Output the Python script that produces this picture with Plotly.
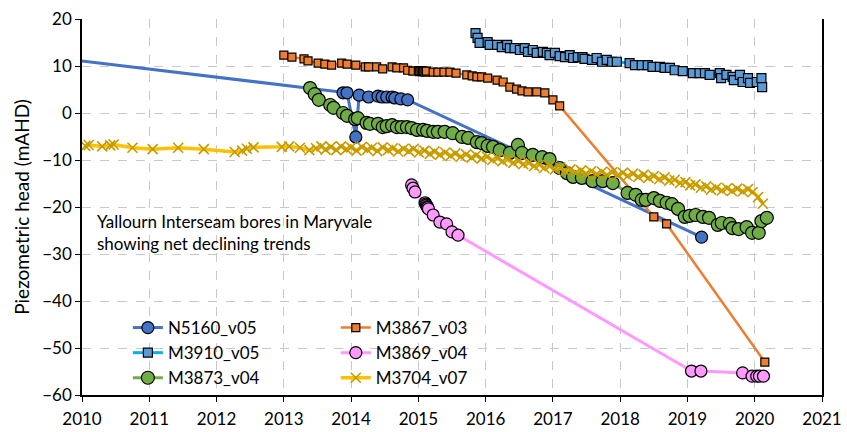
import plotly.graph_objects as go

# ---- Groundwater level records (decimal year, piezometric head in mAHD) ----
n5160_year = [2008.00, 2013.88, 2013.94, 2014.07, 2014.12, 2014.26, 2014.40, 2014.46,
              2014.53, 2014.61, 2014.65, 2014.74, 2014.84, 2019.21]
n5160_head = [14.5, 4.3, 4.3, -5.1, 3.8, 3.4, 3.6, 3.4,
              3.4, 3.4, 3.2, 3.0, 2.8, -26.4]

m3867_year = [2013.00, 2013.12, 2013.30, 2013.36, 2013.51, 2013.61, 2013.71, 2013.86,
              2013.94, 2014.07, 2014.21, 2014.26, 2014.38, 2014.47, 2014.61, 2014.68,
              2014.78, 2014.84, 2014.92, 2015.00, 2015.02, 2015.04, 2015.06, 2015.08,
              2015.10, 2015.12, 2015.22, 2015.29, 2015.38, 2015.47, 2015.56, 2015.72,
              2015.80, 2015.87, 2015.94, 2016.03, 2016.17, 2016.26, 2016.36, 2016.46,
              2016.54, 2016.63, 2016.76, 2016.88, 2017.00, 2017.10, 2018.50, 2018.69,
              2020.15]
m3867_head = [12.3, 11.9, 11.5, 11.1, 10.6, 10.4, 10.2, 10.6,
              10.4, 10.2, 9.8, 9.8, 9.8, 9.4, 9.8, 9.6,
              9.6, 9.1, 8.9, 9.0, 8.8, 9.0, 8.8, 8.9,
              8.7, 8.9, 8.7, 8.7, 8.7, 8.7, 8.5, 8.1,
              7.9, 7.7, 7.7, 7.4, 7.0, 6.6, 5.5, 5.1,
              4.7, 4.5, 4.5, 4.3, 2.8, 1.5, -22.1, -23.6,
              -53.0]

m3910_year = [2015.85, 2015.88, 2015.91, 2016.03, 2016.06, 2016.17, 2016.24, 2016.32,
              2016.36, 2016.43, 2016.51, 2016.58, 2016.63, 2016.70, 2016.76, 2016.85,
              2016.91, 2016.95, 2017.03, 2017.10, 2017.18, 2017.25, 2017.30, 2017.37,
              2017.44, 2017.47, 2017.58, 2017.65, 2017.73, 2017.80, 2017.88, 2017.95,
              2018.14, 2018.22, 2018.32, 2018.41, 2018.48, 2018.59, 2018.66, 2018.74,
              2018.81, 2018.93, 2019.08, 2019.18, 2019.26, 2019.33, 2019.48, 2019.50,
              2019.58, 2019.67, 2019.69, 2019.78, 2019.82, 2019.90, 2019.93, 2020.03,
              2020.10, 2020.11]
m3910_head = [17.0, 16.0, 14.9, 15.1, 14.5, 14.5, 14.0, 14.5,
              13.8, 13.8, 13.4, 13.8, 13.0, 13.4, 12.8, 13.0,
              12.8, 12.3, 12.8, 12.1, 11.9, 12.3, 11.7, 11.9,
              11.9, 11.5, 11.3, 11.7, 10.9, 11.3, 10.9, 10.9,
              10.6, 10.2, 10.2, 10.2, 9.8, 9.8, 9.6, 9.6,
              9.1, 8.9, 8.5, 8.5, 8.5, 8.1, 8.5, 7.4,
              8.1, 7.7, 7.0, 8.1, 6.6, 7.4, 6.4, 6.6,
              7.4, 5.5]

m3869_year = [2014.90, 2014.92, 2014.95, 2015.10, 2015.11, 2015.12, 2015.13, 2015.14,
              2015.15, 2015.22, 2015.32, 2015.42, 2015.50, 2015.59, 2019.06, 2019.20,
              2019.82, 2019.96, 2020.03, 2020.07, 2020.13]
m3869_head = [-15.3, -16.0, -16.8, -19.1, -19.4, -19.6, -19.9, -20.1,
              -20.4, -21.7, -23.2, -23.6, -25.3, -26.0, -54.9, -54.9,
              -55.3, -56.0, -56.0, -56.0, -56.0]

m3873_year = [2013.39, 2013.46, 2013.52, 2013.69, 2013.74, 2013.88, 2013.94, 2014.06,
              2014.10, 2014.23, 2014.28, 2014.40, 2014.47, 2014.53, 2014.61, 2014.68,
              2014.75, 2014.83, 2014.90, 2014.98, 2015.07, 2015.13, 2015.22, 2015.29,
              2015.39, 2015.51, 2015.65, 2015.74, 2015.87, 2015.94, 2016.03, 2016.11,
              2016.21, 2016.36, 2016.48, 2016.54, 2016.70, 2016.84, 2016.95, 2017.10,
              2017.21, 2017.30, 2017.43, 2017.59, 2017.74, 2017.89, 2018.11, 2018.23,
              2018.32, 2018.38, 2018.50, 2018.59, 2018.69, 2018.77, 2018.86, 2018.96,
              2019.03, 2019.12, 2019.23, 2019.32, 2019.45, 2019.51, 2019.63, 2019.67,
              2019.76, 2019.88, 2019.96, 2020.06, 2020.10, 2020.18]
m3873_head = [5.3, 4.0, 2.8, 1.7, 1.1, 0.0, -0.6, -1.3,
              -1.1, -2.1, -2.3, -2.3, -3.0, -2.8, -2.6, -3.0,
              -3.0, -3.0, -3.2, -3.6, -3.6, -3.8, -4.0, -4.0,
              -4.0, -4.3, -5.1, -5.3, -6.2, -6.4, -7.0, -7.2,
              -7.9, -8.5, -6.8, -8.5, -8.9, -9.4, -9.8, -11.7,
              -12.8, -13.6, -13.8, -14.5, -14.5, -14.9, -17.0, -17.4,
              -18.5, -18.5, -18.1, -18.7, -19.1, -19.4, -20.4, -22.1,
              -21.9, -21.7, -22.1, -22.3, -23.8, -23.4, -23.6, -24.5,
              -24.7, -24.3, -25.5, -25.5, -23.0, -22.3]

m3704_year = [2010.05, 2010.10, 2010.30, 2010.42, 2010.47, 2010.75, 2011.05, 2011.43,
              2011.81, 2012.27, 2012.38, 2012.45, 2012.55, 2012.97, 2013.08, 2013.24,
              2013.38, 2013.48, 2013.56, 2013.62, 2013.70, 2013.78, 2013.85, 2013.93,
              2014.00, 2014.08, 2014.16, 2014.24, 2014.31, 2014.39, 2014.47, 2014.55,
              2014.62, 2014.70, 2014.78, 2014.86, 2014.93, 2015.01, 2015.09, 2015.17,
              2015.24, 2015.32, 2015.40, 2015.48, 2015.55, 2015.63, 2015.71, 2015.79,
              2015.86, 2015.94, 2016.02, 2016.10, 2016.18, 2016.25, 2016.33, 2016.41,
              2016.49, 2016.56, 2016.64, 2016.72, 2016.80, 2016.87, 2016.95, 2017.03,
              2017.11, 2017.18, 2017.26, 2017.34, 2017.42, 2017.49, 2017.57, 2017.65,
              2017.73, 2017.80, 2017.88, 2017.96, 2018.04, 2018.11, 2018.19, 2018.27,
              2018.35, 2018.42, 2018.50, 2018.58, 2018.66, 2018.73, 2018.81, 2018.89,
              2018.97, 2019.04, 2019.12, 2019.20, 2019.28, 2019.35, 2019.43, 2019.51,
              2019.59, 2019.66, 2019.74, 2019.82, 2019.90, 2019.97, 2020.05, 2020.12]
m3704_head = [-7.0, -6.8, -7.1, -6.9, -6.7, -7.4, -7.7, -7.4,
              -7.7, -8.3, -8.0, -7.6, -7.3, -7.2, -7.1, -7.4,
              -7.9, -7.5, -7.1, -7.8, -7.2, -7.9, -7.1, -7.7,
              -7.3, -8.0, -7.2, -7.8, -7.4, -8.1, -7.3, -7.9,
              -7.5, -8.2, -7.6, -8.1, -7.6, -8.4, -8.0, -8.7,
              -8.2, -8.9, -8.4, -9.1, -8.6, -9.3, -8.8, -9.5,
              -9.0, -9.7, -9.3, -10.0, -9.6, -10.3, -9.9, -10.6,
              -10.2, -10.9, -10.6, -11.3, -11.0, -11.7, -11.3, -12.0,
              -11.6, -12.4, -12.0, -12.7, -12.2, -12.9, -12.4, -13.0,
              -12.5, -13.2, -12.6, -13.3, -12.7, -13.4, -12.9, -13.6,
              -13.1, -13.8, -13.4, -14.1, -13.7, -14.4, -14.2, -14.9,
              -14.7, -15.4, -15.2, -15.9, -15.6, -16.3, -15.9, -16.5,
              -16.0, -16.6, -16.1, -16.7, -16.2, -16.8, -17.9, -19.3]

year_ticks = list(range(2010, 2022))
head_ticks = list(range(-60, 21, 10))

FONT = "Lato"
OUTLINE = dict(color="black", width=1.2)

fig = go.Figure()

# Left legend column: N5160, M3910, M3873 ; right column: M3867, M3869, M3704
fig.add_trace(go.Scatter(
    x=n5160_year, y=n5160_head, name="N5160_v05", mode="lines+markers",
    legend="legend", legendrank=1,
    line=dict(color="#4472C4", width=3),
    marker=dict(symbol="circle", size=12, color="#4472C4", line=OUTLINE)))
fig.add_trace(go.Scatter(
    x=m3867_year, y=m3867_head, name="M3867_v03", mode="lines+markers",
    legend="legend2", legendrank=1,
    line=dict(color="#ED7D31", width=2.5),
    marker=dict(symbol="square", size=8, color="#ED7D31", line=OUTLINE)))
fig.add_trace(go.Scatter(
    x=m3910_year, y=m3910_head, name="M3910_v05", mode="lines+markers",
    legend="legend", legendrank=2,
    line=dict(color="#00B0F0", width=3),
    marker=dict(symbol="square", size=9, color="#5B9BD5", line=OUTLINE)))
fig.add_trace(go.Scatter(
    x=m3869_year, y=m3869_head, name="M3869_v04", mode="lines+markers",
    legend="legend2", legendrank=2,
    line=dict(color="#FF99FF", width=3),
    marker=dict(symbol="circle", size=12, color="#FF99FF", line=OUTLINE)))
fig.add_trace(go.Scatter(
    x=m3873_year, y=m3873_head, name="M3873_v04", mode="lines+markers",
    legend="legend", legendrank=3,
    line=dict(color="#70AD47", width=3),
    marker=dict(symbol="circle", size=13, color="#70AD47", line=OUTLINE)))
fig.add_trace(go.Scatter(
    x=m3704_year, y=m3704_head, name="M3704_v07", mode="lines+markers",
    legend="legend2", legendrank=3,
    line=dict(color="#FFC000", width=3.5),
    marker=dict(symbol="x-thin", size=10, color="#C49A00",
                line=dict(color="#C49A00", width=1.6))))

grid = dict(showgrid=True, gridcolor="#C8C8C8", griddash="dash", gridwidth=1)

fig.update_xaxes(
    range=[2010, 2021], tickvals=year_ticks, ticktext=[str(v) for v in year_ticks],
    ticks="outside", ticklen=5, tickcolor="black", showline=True,
    linecolor="black", linewidth=1.5, zeroline=False, automargin=False,
    ticklabelstandoff=3,
    tickfont=dict(family=FONT, size=17, color="black"), **grid)
fig.update_yaxes(
    range=[-60, 20], tickvals=head_ticks, ticks="outside", ticklen=5,
    tickcolor="black", showline=True, linecolor="black", linewidth=1.5,
    mirror=True, zeroline=False, automargin=False,
    title=dict(text="Piezometric head (mAHD)", standoff=8,
               font=dict(family=FONT, size=19, color="black")),
    tickfont=dict(family=FONT, size=17, color="black"), **grid)

fig.add_annotation(
    x=0.018, y=0.494, xref="paper", yref="paper", xanchor="left", yanchor="top",
    text="Yallourn Interseam bores in Maryvale<br>showing net declining trends",
    showarrow=False, align="left",
    font=dict(family=FONT, size=17, color="black"))

legend_style = dict(orientation="v", xanchor="left", yanchor="top",
                    bgcolor="rgba(0,0,0,0)", borderwidth=0,
                    font=dict(family=FONT, size=17, color="black"),
                    itemsizing="trace", tracegroupgap=0)

fig.update_layout(
    width=847, height=432,
    margin=dict(l=82, r=25, t=19, b=37),
    paper_bgcolor="white", plot_bgcolor="white",
    showlegend=True,
    legend=dict(x=0.062, y=0.226, **legend_style),
    legend2=dict(x=0.343, y=0.226, **legend_style),
    font=dict(family=FONT, color="black"))

fig.write_html("out.html")
